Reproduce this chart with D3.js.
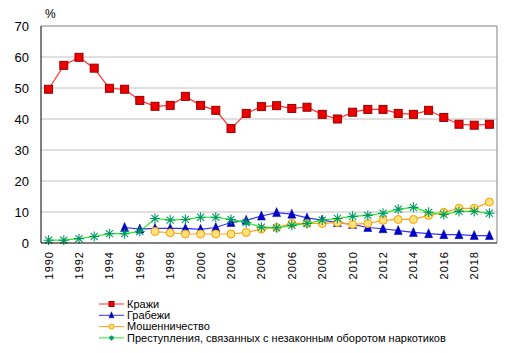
<!DOCTYPE html>
<html>
<head>
<meta charset="utf-8">
<script src="https://cdn.jsdelivr.net/npm/d3@7"></script>
<style>
  body { margin: 0; background: #fff; }
  text { font-family: "Liberation Sans", Arial, sans-serif; }
</style>
</head>
<body>
<svg id="chart"></svg>
<script>
// years on the x axis
var years = d3.range(1990, 2020);
var yTicks = [0, 10, 20, 30, 40, 50, 60, 70];

// Кражи
var theft = [49.6, 57.3, 59.9, 56.4, 49.9, 49.6, 46.0, 44.1, 44.4, 47.3,
  44.4, 42.8, 36.9, 41.8, 44.0, 44.3, 43.4, 43.8, 41.5, 40.0,
  42.2, 43.1, 43.1, 41.8, 41.5, 42.8, 40.5, 38.3, 38.0, 38.3];
// Грабежи (from 1995)
var robbery = [null, null, null, null, null, 5.0, 4.5, 4.7, 4.7, 4.7,
  4.4, 5.0, 6.6, 7.3, 8.7, 9.8, 9.3, 8.1, 7.4, 6.6,
  6.0, 5.0, 4.6, 4.0, 3.4, 3.0, 2.7, 2.7, 2.4, 2.4];
// Мошенничество (from 1997)
var fraud = [null, null, null, null, null, null, null, 3.7, 3.3, 2.9,
  2.9, 2.9, 2.9, 3.4, 4.5, 5.0, 6.3, 6.3, 6.3, 6.6,
  6.0, 6.3, 7.3, 7.6, 7.6, 8.9, 9.9, 11.2, 11.2, 13.2];
// Преступления, связанных с незаконным оборотом наркотиков
var drugs = [0.9, 0.9, 1.4, 2.1, 3.0, 3.0, 3.7, 7.9, 7.4, 7.6,
  8.3, 8.3, 7.6, 6.6, 5.1, 4.9, 5.7, 6.3, 7.4, 7.9,
  8.6, 8.9, 9.6, 10.9, 11.5, 9.9, 9.2, 10.2, 10.2, 9.6];

var series = [
  { name: "Кражи", values: theft, line: "#ff3333", mark: "square", fill: "#ee0000", stroke: "#990000" },
  { name: "Грабежи", values: robbery, line: "#3333ff", mark: "triangle", fill: "#0000cc", stroke: "#000099" },
  { name: "Мошенничество", values: fraud, line: "#ffa31a", mark: "circle", fill: "#ffe27a", stroke: "#f5a000" },
  { name: "Преступления, связанных с незаконным оборотом наркотиков", values: drugs, line: "#22ee22", mark: "star", fill: "none", stroke: "#009966" }
];

var W = 511, H = 353;
var margin = { top: 26, right: 14, bottom: 110, left: 41 },
  width = W - margin.left - margin.right,
  height = H - margin.top - margin.bottom;

var svg = d3.select("#chart").attr("width", W).attr("height", H);
var g = svg.append("g").attr("transform", "translate(" + margin.left + "," + margin.top + ")");

var x = d3.scaleBand().domain(years).range([0, width]).padding(0);
var y = d3.scaleLinear().domain([0, 70]).range([height, 0]);
var cx = function (yr) { return x(yr) + x.bandwidth() / 2; };

// grid
g.selectAll(".grid").data(yTicks.slice(1, -1)).enter().append("line")
  .attr("x1", 0).attr("x2", width)
  .attr("y1", function (d) { return y(d); }).attr("y2", function (d) { return y(d); })
  .attr("stroke", "#c0c0c0").attr("stroke-width", 1);

// top and right frame
g.append("path")
  .attr("d", "M0," + y(70) + "H" + width + "V" + height)
  .attr("fill", "none").attr("stroke", "#808080");

// y labels
g.selectAll(".ylab").data(yTicks).enter().append("text")
  .attr("x", -12).attr("y", function (d) { return y(d); })
  .attr("dy", "0.35em").attr("text-anchor", "end")
  .attr("font-size", 13).attr("fill", "#000")
  .text(function (d) { return d; });

svg.append("text").attr("x", 45).attr("y", 18).attr("font-size", 12).text("%");

// x labels
g.selectAll(".xlab").data(years.filter(function (d) { return d % 2 === 0; })).enter().append("text")
  .attr("transform", function (d) { return "translate(" + (cx(d) + 4) + "," + (height + 8) + ") rotate(-90)"; })
  .attr("text-anchor", "end").attr("font-size", 11).attr("letter-spacing", "1px")
  .text(function (d) { return d; });

// markers
function drawMark(sel, s, size) {
  var r = size;
  if (s.mark === "square") {
    sel.append("rect").attr("x", -r).attr("y", -r).attr("width", 2 * r).attr("height", 2 * r)
      .attr("fill", s.fill).attr("stroke", s.stroke).attr("stroke-width", 1);
  } else if (s.mark === "triangle") {
    sel.append("path").attr("d", "M0," + (-r - 1) + "L" + r + "," + r + "L" + (-r) + "," + r + "Z")
      .attr("fill", s.fill).attr("stroke", s.stroke).attr("stroke-width", 0.5);
  } else if (s.mark === "circle") {
    sel.append("circle").attr("r", r).attr("fill", s.fill).attr("stroke", s.stroke).attr("stroke-width", 1);
  } else {
    var p = "";
    [0, 45, 90, 135].forEach(function (a) {
      var t = a * Math.PI / 180, dx = Math.sin(t) * r, dy = Math.cos(t) * r;
      p += "M" + (-dx) + "," + (-dy) + "L" + dx + "," + dy;
    });
    sel.append("path").attr("d", p).attr("fill", "none").attr("stroke", s.stroke).attr("stroke-width", 1.1);
  }
}

var lineGen = d3.line()
  .defined(function (d) { return d[1] != null; })
  .x(function (d) { return cx(d[0]); })
  .y(function (d) { return y(d[1]); });

series.forEach(function (s) {
  var pts = years.map(function (yr, i) { return [yr, s.values[i]]; });
  g.append("path").datum(pts).attr("d", lineGen)
    .attr("fill", "none").attr("stroke", s.line).attr("stroke-width", 1.2);
  g.selectAll(null).data(pts.filter(function (d) { return d[1] != null; })).enter().append("g")
    .attr("transform", function (d) { return "translate(" + cx(d[0]) + "," + y(d[1]) + ")"; })
    .each(function () { drawMark(d3.select(this), s, s.mark === "star" ? 5 : 4); });
});

// left and bottom axis lines
g.append("line").attr("x1", 0).attr("x2", 0).attr("y1", 0).attr("y2", height).attr("stroke", "#000");
g.append("line").attr("x1", 0).attr("x2", width).attr("y1", height).attr("y2", height).attr("stroke", "#000");

// legend
var leg = svg.append("g").attr("transform", "translate(99,304)");
series.forEach(function (s, i) {
  var row = leg.append("g").attr("transform", "translate(0," + (i * 11.3) + ")");
  row.append("line").attr("x1", 0).attr("x2", 25).attr("stroke", s.line).attr("stroke-width", 1);
  var m = row.append("g").attr("transform", "translate(12.5,0)");
  drawMark(m, s, 2.5);
  row.append("text").attr("x", 28).attr("dy", "0.35em").attr("font-size", 11).text(s.name);
});
</script>
</body>
</html>
